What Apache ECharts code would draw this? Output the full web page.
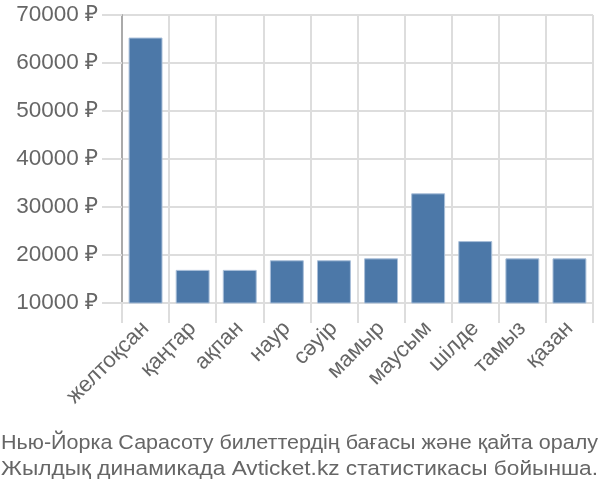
<!DOCTYPE html>
<html><head><meta charset="utf-8">
<script src="https://cdn.jsdelivr.net/npm/echarts@6/dist/echarts.min.js"></script>
<style>html,body{margin:0;padding:0;background:#fff}#c{width:600px;height:500px}</style>
</head><body><div id="c"></div>
<script>
const categories = ['желтоқсан','қаңтар','ақпан','наур','сәуір','мамыр','маусым','шілде','тамыз','қазан'];
const prices = [65300, 16900, 16900, 18900, 18900, 19300, 32850, 22900, 19300, 19300];
const captionLines = ['Нью-Йорка Сарасоту билеттердің бағасы және қайта оралу', 'Жылдық динамикада Avticket.kz статистикасы бойынша.'];
const yMin = 10000, yMax = 70000, yStep = 10000;

const chart = echarts.init(document.getElementById('c'), null, {renderer:'canvas'});
const font = 'Liberation Sans, Arial, sans-serif';
const capFont = '20.5px ' + font;
const ctx = document.createElement('canvas').getContext('2d');
ctx.font = capFont;
chart.setOption({
  animation:false,
  grid:{left:122, right:7, top:15, bottom:197, containLabel:false},
  xAxis:{type:'category', data:categories,
    axisLine:{show:true, lineStyle:{color:'#ddd', width:2}},
    axisTick:{show:true, length:20, lineStyle:{color:'#ddd', width:2}},
    splitLine:{show:true, lineStyle:{color:'#ddd', width:2}},
    axisLabel:{rotate:45, fontSize:22, color:'#666', fontFamily:font, margin:22, interval:0}},
  yAxis:{type:'value', min:yMin, max:yMax, interval:yStep,
    axisLine:{show:true, lineStyle:{color:'#aaa', width:2}},
    axisTick:{show:true, length:20, lineStyle:{color:'#ddd', width:2}},
    splitLine:{show:true, lineStyle:{color:'#ddd', width:2}},
    axisLabel:{fontSize:22.5, color:'#666', fontFamily:font, margin:24, formatter: v => v + ' ₽'}},
  series:[{type:'bar', data:prices, barCategoryGap:'28%',
    itemStyle:{color:'#4c78a8', borderColor:'#a9bfd9', borderWidth:1}}],
  graphic: captionLines.map((t,i)=>({type:'text', x:1, y:443+i*26,
    scaleX: 597 / ctx.measureText(t).width,
    style:{text:t, font:capFont, fill:'#666', verticalAlign:'middle'}}))
});
</script></body></html>
